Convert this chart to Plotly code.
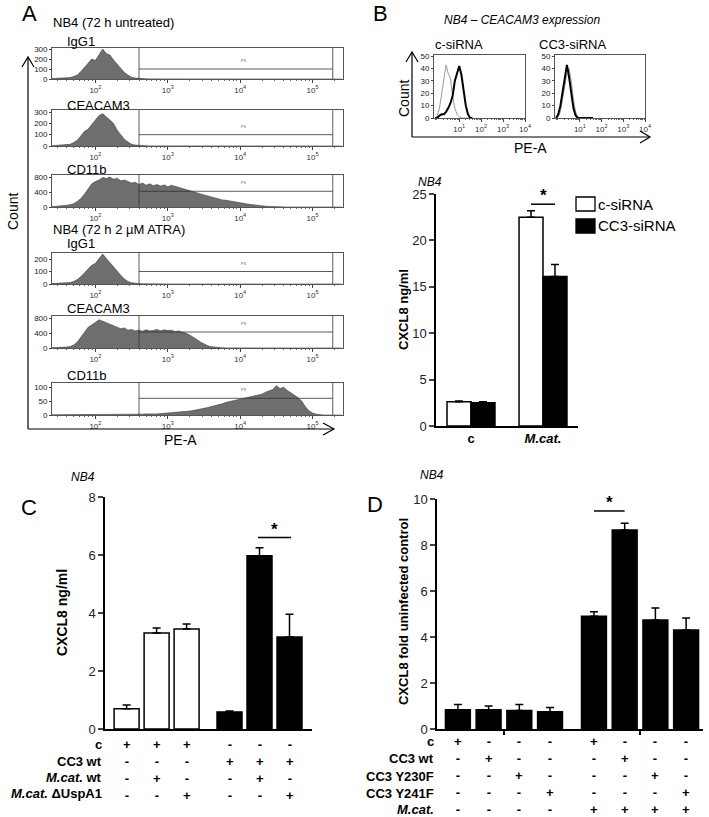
import plotly.graph_objects as go

W, H = 709, 817
FONT = "Liberation Sans"

# ---------------- Panel A: flow cytometry histograms (log10 PE-A bins) ----------------
A_LOG_BINS = [round(1.40 + 0.05 * i, 2) for i in range(81)]
A_TITLES = ["IgG1", "CEACAM3", "CD11b", "IgG1", "CEACAM3", "CD11b"]
A_GROUPS = ["NB4 (72 h untreated)", "NB4 (72 h 2 µM ATRA)"]
A1_IGG1_UNTR = [4, 6, 5, 8, 10, 14, 25, 40, 75, 115, 165, 200, 185, 240, 300, 255, 240, 190,
                150, 105, 65, 38, 18, 9, 5, 3, 2, 1, 1, 0] + [0] * 51
A2_CC3_UNTR = [3, 5, 6, 7, 9, 15, 30, 50, 90, 130, 150, 190, 220, 270, 285, 260, 230, 200,
               140, 100, 60, 35, 15, 8, 4, 3, 2, 1, 1, 0] + [0] * 51
A3_CD11B_UNTR = [10, 15, 20, 30, 45, 60, 90, 150, 230, 350, 500, 620, 680, 720, 790, 760, 800, 740,
                 770, 700, 720, 680, 640, 660, 600, 640, 580, 620, 570, 600, 560, 590, 540, 580, 550, 520,
                 480, 470, 420, 400, 380, 350, 320, 300, 270, 250, 220, 190, 180, 160, 140, 125, 110, 95,
                 80, 65, 50, 40, 30, 22, 15, 8, 4, 2, 0] + [0] * 16
A4_IGG1_ATRA = [3, 4, 5, 6, 8, 12, 20, 35, 60, 90, 120, 150, 165, 200, 240, 205, 170, 140,
                100, 70, 40, 20, 10, 5, 3, 2, 1, 1, 0, 0] + [0] * 51
A5_CC3_ATRA = [8, 10, 12, 15, 25, 40, 80, 160, 300, 450, 560, 620, 700, 760, 720, 680, 640, 600,
               560, 520, 540, 480, 500, 460, 480, 450, 490, 460, 470, 500, 460, 490, 470, 480, 440, 460,
               420, 400, 350, 300, 230, 160, 100, 60, 35, 20, 12, 6, 3, 2, 1, 0, 0, 0] + [0] * 27
A6_CD11B_ATRA = [1, 1, 1, 1, 1, 1, 1, 1, 1, 2, 1, 2, 1, 2, 2, 1, 2, 2, 2, 2,
                 2, 3, 2, 3, 3, 3, 4, 3, 4, 4, 5, 5, 6, 7, 8, 9, 10, 12, 14, 16,
                 18, 20, 24, 27, 30, 33, 38, 40, 45, 48, 50, 52, 55, 58, 62, 66, 68, 72, 75, 82,
                 88, 92, 105, 95, 100, 88, 80, 72, 62, 50, 30, 15, 7, 3, 1, 0, 0, 0, 0, 0, 0]
A_HISTS = [A1_IGG1_UNTR, A2_CC3_UNTR, A3_CD11B_UNTR, A4_IGG1_ATRA, A5_CC3_ATRA, A6_CD11B_ATRA]
A_GATE_LEVEL = [100, 100, 420, 100, 430, 60]
A_GATE_LOW = 400
A_GATE_HIGH = 190000
A_YMAX = [310, 318, 855, 248, 860, 115]
A_YTICKS = [[0, 100, 200, 300], [0, 100, 200, 300], [0, 400, 800],
            [0, 100, 200], [0, 400, 800], [0, 50, 100]]

# ---------------- Panel B top: CEACAM3 expression histograms ----------------
B_LOG_BINS = [-0.1, 0.0, 0.1, 0.2, 0.3, 0.4, 0.5, 0.6, 0.7, 0.8, 0.9, 1.0, 1.1, 1.2, 1.3, 1.4, 1.5, 1.6]
B_CSI_ISO = [0, 2, 8, 20, 35, 43, 36, 32, 18, 8, 3, 1, 0, 0, 0, 0, 0, 0]
B_CSI_CC3 = [0, 0, 2, 3, 3, 5, 8, 12, 18, 30, 36, 42, 35, 22, 10, 3, 0, 0]
B_CC3SI_ISO = [0, 1, 5, 15, 28, 36, 40, 30, 15, 5, 1, 0, 0, 0, 0, 0, 0, 0]
B_CC3SI_CC3 = [0, 3, 10, 22, 35, 43, 33, 18, 8, 2, 0, 0, 0, 0, 0, 0, 0, 0]
B_HIST_TITLES = ["c-siRNA", "CC3-siRNA"]

# ---------------- Panel B bottom: CXCL8 ng/ml ----------------
B_CATS = ["c", "M.cat."]
B_SERIES = ["c-siRNA", "CC3-siRNA"]
B_CSI_VAL = [2.6, 22.5]
B_CSI_ERR = [0.1, 0.7]
B_CC3SI_VAL = [2.5, 16.1]
B_CC3SI_ERR = [0.1, 1.3]

# ---------------- Panel C ----------------
C_VAL = [0.7, 3.31, 3.45, 0.59, 5.97, 3.17]
C_ERR = [0.13, 0.17, 0.17, 0.03, 0.28, 0.79]
C_GROUP = [0, 0, 0, 1, 1, 1]
C_ROWS = ["<b>c</b>", "<b>CC3 wt</b>", "<b><i>M.cat.</i> wt</b>", "<b><i>M.cat.</i> ΔUspA1</b>"]
C_TABLE = [["+", "+", "+", "-", "-", "-"],
           ["-", "-", "-", "+", "+", "+"],
           ["-", "+", "-", "-", "+", "-"],
           ["-", "-", "+", "-", "-", "+"]]

# ---------------- Panel D ----------------
D_VAL = [0.84, 0.84, 0.8, 0.75, 4.9, 8.65, 4.74, 4.3]
D_ERR = [0.22, 0.16, 0.26, 0.18, 0.2, 0.3, 0.52, 0.53]
D_GROUP = [0, 0, 0, 0, 1, 1, 1, 1]
D_ROWS = ["<b>c</b>", "<b>CC3 wt</b>", "<b>CC3 Y230F</b>", "<b>CC3 Y241F</b>", "<b><i>M.cat.</i></b>"]
D_TABLE = [["+", "-", "-", "-", "+", "-", "-", "-"],
           ["-", "+", "-", "-", "-", "+", "-", "-"],
           ["-", "-", "+", "-", "-", "-", "+", "-"],
           ["-", "-", "-", "+", "-", "-", "-", "+"],
           ["-", "-", "-", "-", "+", "+", "+", "+"]]


def px(x):
    return x / W


def py(y):
    return 1 - y / H


def axn(letter, n):
    return f"{letter}axis" + ("" if n == 1 else str(n))


def ref(letter, n):
    return letter + ("" if n == 1 else str(n))


fig = go.Figure()
layout = {}
shapes = []
annos = []


def text(x, y, s, size=13, xanchor="left", angle=0, italic=False, bold=False, color="black"):
    if bold:
        s = f"<b>{s}</b>"
    if italic:
        s = f"<i>{s}</i>"
    annos.append(dict(x=px(x), y=py(y), xref="paper", yref="paper", text=s, showarrow=False,
                      xanchor=xanchor, yanchor="middle", textangle=angle, borderpad=0,
                      font=dict(family=FONT, size=size, color=color)))


def line(x0, y0, x1, y1, width=1.2, color="black"):
    shapes.append(dict(type="line", xref="paper", yref="paper", x0=px(x0), y0=py(y0),
                       x1=px(x1), y1=py(y1), line=dict(color=color, width=width)))


def path(pts, width=1.2):
    d = "M " + " L ".join(f"{px(a)},{py(b)}" for a, b in pts)
    shapes.append(dict(type="path", xref="paper", yref="paper", path=d,
                       line=dict(color="black", width=width)))


minor_vals = [k * 10 ** e for e in range(-1, 6) for k in range(2, 10)]

# ---------- Panel A ----------
A_BOXES = [(48, 79), (110, 146), (175, 207), (253, 284), (316, 348), (383, 415)]
A_LABEL_Y = [41, 105, 169, 243, 308, 375]
for i in range(6):
    n = i + 1
    top, bot = A_BOXES[i]
    layout[axn("x", n)] = dict(
        domain=[px(52), px(343)], anchor=ref("y", n), type="log", range=[1.4, 5.42],
        tickvals=[1e2, 1e3, 1e4, 1e5],
        ticktext=["10<sup>2</sup>", "10<sup>3</sup>", "10<sup>4</sup>", "10<sup>5</sup>"],
        ticks="outside", ticklen=3, tickwidth=0.8, tickcolor="#444", automargin=False,
        tickfont=dict(family=FONT, size=8, color="#333"),
        showline=True, linecolor="#555", linewidth=0.8, mirror=True, showgrid=False, zeroline=False,
        minor=dict(tickmode="array", tickvals=minor_vals, ticks="outside", ticklen=1.5,
                   tickcolor="#666", tickwidth=0.6, showgrid=False))
    layout[axn("y", n)] = dict(
        domain=[py(bot), py(top)], anchor=ref("x", n), range=[0, A_YMAX[i]], tickvals=A_YTICKS[i],
        ticks="outside", ticklen=2, tickwidth=0.8, tickcolor="#444", automargin=False,
        tickfont=dict(family=FONT, size=8, color="#222"),
        showline=True, linecolor="#555", linewidth=0.8, mirror=True, showgrid=False, zeroline=False)
    fig.add_trace(go.Scatter(
        x=[10 ** v for v in A_LOG_BINS], y=A_HISTS[i], mode="lines", fill="tozeroy",
        line=dict(color="#3c3c3c", width=0.6), fillcolor="#6e6e6e",
        xaxis=ref("x", n), yaxis=ref("y", n), showlegend=False, hoverinfo="skip"))
    xr, yr = ref("x", n), ref("y", n)
    for gx in (A_GATE_LOW, A_GATE_HIGH):
        shapes.append(dict(type="line", xref=xr, yref=yr + " domain", x0=gx, x1=gx, y0=0, y1=1,
                           line=dict(color="#333", width=0.8)))
    shapes.append(dict(type="line", xref=xr, yref=yr, x0=A_GATE_LOW, x1=A_GATE_HIGH,
                       y0=A_GATE_LEVEL[i], y1=A_GATE_LEVEL[i], line=dict(color="#333", width=0.8)))
    annos.append(dict(x=4.05, y=A_GATE_LEVEL[i], xref=xr, yref=yr, text="P3", showarrow=False,
                      yanchor="bottom", yshift=4, font=dict(family=FONT, size=4, color="#555")))
    text(66, A_LABEL_Y[i], A_TITLES[i], size=13)

text(21, 13, "A", size=22)
text(52, 22, A_GROUPS[0], size=13)
text(52, 229, A_GROUPS[1], size=13)
line(28, 429, 28, 58)
path([(22, 67), (28, 57), (34, 67)])
line(28, 429, 333, 429)
path([(323, 423), (334, 429), (323, 435)])
text(13, 212, "Count", size=14, xanchor="center", angle=-90)
text(180, 440, "PE-A", size=14, xanchor="center")

# ---------- Panel B top ----------
B_BOX_X = [(434, 525), (555, 645)]
B_CURVES = [(B_CSI_ISO, B_CSI_CC3), (B_CC3SI_ISO, B_CC3SI_CC3)]
for j in range(2):
    n = 7 + j
    x0, x1 = B_BOX_X[j]
    layout[axn("x", n)] = dict(
        domain=[px(x0), px(x1)], anchor=ref("y", n), type="log", range=[-0.15, 4.0],
        tickvals=[10, 100, 1000, 10000],
        ticktext=["10<sup>1</sup>", "10<sup>2</sup>", "10<sup>3</sup>", "10<sup>4</sup>"],
        ticks="outside", ticklen=3, tickwidth=0.8, tickcolor="#444", automargin=False,
        tickfont=dict(family=FONT, size=8, color="#333"),
        showline=True, linecolor="#555", linewidth=0.8, mirror=True, showgrid=False, zeroline=False,
        minor=dict(tickmode="array", tickvals=minor_vals, ticks="outside", ticklen=1.5,
                   tickcolor="#666", tickwidth=0.6, showgrid=False))
    layout[axn("y", n)] = dict(
        domain=[py(118), py(55)], anchor=ref("x", n), range=[0, 51], tickvals=[0, 10, 20, 30, 40, 50],
        ticks="outside", ticklen=2, tickwidth=0.8, tickcolor="#444", automargin=False,
        tickfont=dict(family=FONT, size=8, color="#222"),
        showline=True, linecolor="#555", linewidth=0.8, mirror=True, showgrid=False, zeroline=False)
    iso, cc3 = B_CURVES[j]
    fig.add_trace(go.Scatter(x=[10 ** v for v in B_LOG_BINS], y=iso, mode="lines",
                             line=dict(color="#9a9a9a", width=1), xaxis=ref("x", n), yaxis=ref("y", n),
                             showlegend=False, hoverinfo="skip"))
    fig.add_trace(go.Scatter(x=[10 ** v for v in B_LOG_BINS], y=cc3, mode="lines",
                             line=dict(color="black", width=2), xaxis=ref("x", n), yaxis=ref("y", n),
                             showlegend=False, hoverinfo="skip"))
text(434, 45, B_HIST_TITLES[0], size=13)
text(538, 45, B_HIST_TITLES[1], size=13)
text(372, 13, "B", size=22)
text(522, 20, "NB4 – CEACAM3 expression", size=12, xanchor="center", italic=True)
line(412, 137, 412, 53)
path([(406, 62), (412, 52), (418, 62)])
line(412, 137, 649, 137)
path([(640, 131), (650, 137), (640, 143)])
text(404, 99, "Count", size=14, xanchor="center", angle=-90)
text(530, 148, "PE-A", size=14, xanchor="center")

# ---------- Panel B bottom bars ----------
BAR_AXIS = dict(showline=True, linecolor="black", linewidth=1.5, showgrid=False, zeroline=False,
                automargin=False)
layout["xaxis9"] = dict(domain=[px(436), px(578)], anchor="y9", range=[-0.486, 1.486],
                        tickvals=[0, 1], ticktext=["<b>c</b>", "<b><i>M.cat.</i></b>"], ticks="",
                        tickfont=dict(family=FONT, size=13, color="black"), **BAR_AXIS)
layout["yaxis9"] = dict(domain=[py(426), py(194)], anchor="x9", range=[0, 25],
                        tickvals=[0, 5, 10, 15, 20, 25], ticks="outside", ticklen=5, tickwidth=1.5,
                        tickfont=dict(family=FONT, size=13, color="#222"), **BAR_AXIS)
bw = 0.333
B_COLORS = ["white", "black"]
for k, (vals, errs) in enumerate([(B_CSI_VAL, B_CSI_ERR), (B_CC3SI_VAL, B_CC3SI_ERR)]):
    fig.add_trace(go.Bar(
        x=[g + (k - 0.5) * bw for g in range(len(B_CATS))], y=vals, width=bw, name=B_SERIES[k],
        marker=dict(color=B_COLORS[k], line=dict(color="black", width=1.5)),
        error_y=dict(type="data", symmetric=False, array=errs, arrayminus=[0] * len(errs),
                     color="black", thickness=1.5, width=4),
        xaxis="x9", yaxis="y9", showlegend=False))
    # legend key
    ly = 204 + 22 * k
    shapes.append(dict(type="rect", xref="paper", yref="paper", x0=px(576), x1=px(595),
                       y0=py(ly + 7), y1=py(ly - 7), fillcolor=B_COLORS[k],
                       line=dict(color="black", width=1.3)))
    text(597, ly, B_SERIES[k], size=15)
shapes.append(dict(type="line", xref="x9", yref="y9", x0=1 - bw / 2, x1=1 + bw / 2, y0=23.9, y1=23.9,
                   line=dict(color="black", width=1.5)))
annos.append(dict(x=1, y=23.9, xref="x9", yref="y9", text="<b>*</b>", showarrow=False,
                  yanchor="bottom", yshift=-3, font=dict(family=FONT, size=17)))
text(430, 182, "NB4", size=12, xanchor="center", italic=True)
text(403, 310, "CXCL8 ng/ml", size=13, xanchor="center", angle=-90, bold=True)

# ---------- Panel C ----------
c_x = [i + 0.43 * C_GROUP[i] for i in range(len(C_VAL))]
layout["xaxis10"] = dict(domain=[px(105), px(312)], anchor="y10", range=[-0.72, 6.18],
                         showticklabels=False, ticks="", **BAR_AXIS)
layout["yaxis10"] = dict(domain=[py(729), py(497)], anchor="x10", range=[0, 8],
                         tickvals=[0, 2, 4, 6, 8], ticks="outside", ticklen=5, tickwidth=1.5,
                         tickfont=dict(family=FONT, size=13, color="#222"), **BAR_AXIS)
for grp, col in ((0, "white"), (1, "black")):
    idx = [i for i in range(len(C_VAL)) if C_GROUP[i] == grp]
    fig.add_trace(go.Bar(
        x=[c_x[i] for i in idx], y=[C_VAL[i] for i in idx], width=0.833,
        marker=dict(color=col, line=dict(color="black", width=1.5)),
        error_y=dict(type="data", symmetric=False, array=[C_ERR[i] for i in idx],
                     arrayminus=[0] * len(idx), color="black", thickness=1.5, width=4),
        xaxis="x10", yaxis="y10", showlegend=False))
shapes.append(dict(type="line", xref="x10", yref="y10", x0=c_x[4] - 0.05, x1=c_x[5] + 0.05,
                   y0=6.6, y1=6.6, line=dict(color="black", width=1.5)))
annos.append(dict(x=(c_x[4] + c_x[5]) / 2, y=6.6, xref="x10", yref="y10", text="<b>*</b>",
                  showarrow=False, yanchor="bottom", yshift=-3, font=dict(family=FONT, size=17)))
text(20, 507, "C", size=22)
text(83, 477, "NB4", size=12, xanchor="center", italic=True)
text(62, 613, "CXCL8 ng/ml", size=14, xanchor="center", angle=-90, bold=True)
C_ROW_Y = [744, 761, 777, 793]
for r, lab in enumerate(C_ROWS):
    text(103, C_ROW_Y[r], lab, size=13, xanchor="right")
for i in range(len(C_VAL)):
    col_txt = "<br>".join(f"<b>{C_TABLE[r][i]}</b>" for r in range(len(C_ROWS)))
    annos.append(dict(x=c_x[i], y=py(C_ROW_Y[0] - 8), xref="x10", yref="paper", text=col_txt,
                      showarrow=False, yanchor="top", borderpad=0,
                      font=dict(family=FONT, size=13)))

# ---------- Panel D ----------
d_x = [i + 0.43 * D_GROUP[i] for i in range(len(D_VAL))]
d_group_centers = [sum(d_x[i] for i in range(8) if D_GROUP[i] == g) / 4 for g in (0, 1)]
layout["xaxis11"] = dict(domain=[px(437), px(703)], anchor="y11", range=[-0.68, 7.98],
                         showticklabels=False, tickvals=d_group_centers, ticks="outside", ticklen=4,
                         tickwidth=1.5, tickcolor="black", **BAR_AXIS)
layout["yaxis11"] = dict(domain=[py(729), py(499)], anchor="x11", range=[0, 10],
                         tickvals=[0, 2, 4, 6, 8, 10], ticks="outside", ticklen=5, tickwidth=1.5,
                         tickfont=dict(family=FONT, size=13, color="#222"), **BAR_AXIS)
fig.add_trace(go.Bar(
    x=d_x, y=D_VAL, width=0.81, marker=dict(color="black", line=dict(color="black", width=1.5)),
    error_y=dict(type="data", symmetric=False, array=D_ERR, arrayminus=[0] * len(D_ERR),
                 color="black", thickness=1.5, width=4),
    xaxis="x11", yaxis="y11", showlegend=False))
shapes.append(dict(type="line", xref="x11", yref="y11", x0=d_x[4], x1=d_x[5], y0=9.48, y1=9.48,
                   line=dict(color="black", width=1.5)))
annos.append(dict(x=(d_x[4] + d_x[5]) / 2, y=9.48, xref="x11", yref="y11", text="<b>*</b>",
                  showarrow=False, yanchor="bottom", yshift=-3, font=dict(family=FONT, size=17)))
text(366, 505, "D", size=22)
text(432, 475, "NB4", size=12, xanchor="center", italic=True)
text(403, 612, "CXCL8 fold uninfected control", size=13, xanchor="center", angle=-90, bold=True)
D_ROW_Y = [741, 758, 776, 793, 809]
for r, lab in enumerate(D_ROWS):
    text(435, D_ROW_Y[r], lab, size=13, xanchor="right")
for i in range(len(D_VAL)):
    col_txt = "<br>".join(f"<b>{D_TABLE[r][i]}</b>" for r in range(len(D_ROWS)))
    annos.append(dict(x=d_x[i], y=py(D_ROW_Y[0] - 8), xref="x11", yref="paper", text=col_txt,
                      showarrow=False, yanchor="top", borderpad=0,
                      font=dict(family=FONT, size=13)))

fig.update_layout(
    width=W, height=H, autosize=False,
    margin=dict(l=0, r=0, t=0, b=0, pad=0, autoexpand=False),
    paper_bgcolor="white", plot_bgcolor="white", barmode="overlay", showlegend=False,
    font=dict(family=FONT, color="black"),
    shapes=shapes, annotations=annos, **layout)

# remove the browser's default 8px page margin so the figure sits at the window's top-left corner
fig.write_html("out.html", config={"displayModeBar": False},
               post_script="document.body.style.margin='0px';")
